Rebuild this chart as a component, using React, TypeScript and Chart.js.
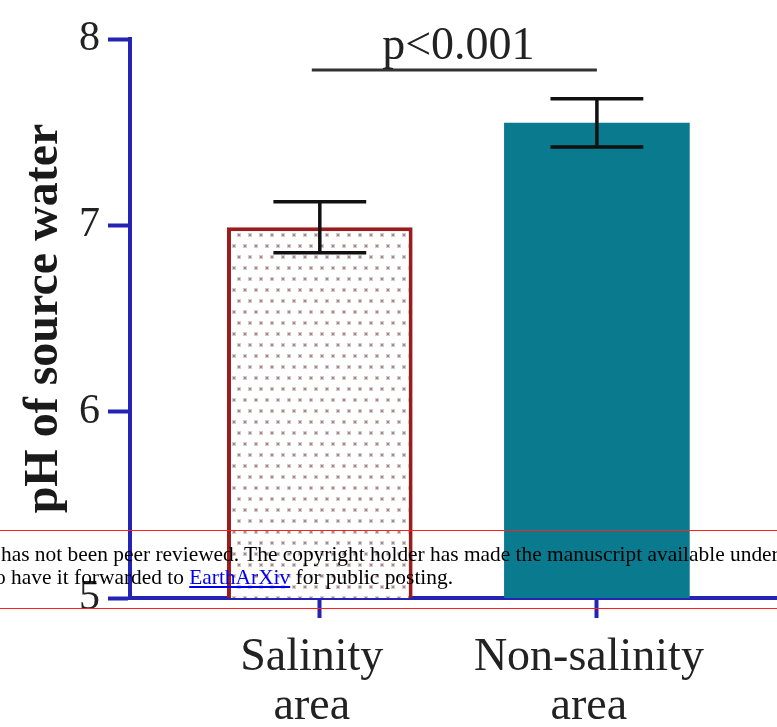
import React, { useEffect, useRef } from "react";
import { Chart, registerables } from "chart.js";

Chart.register(...registerables);

const CATEGORIES = ["Salinity area", "Non-salinity area"];
const X_TICK_LABELS = [["Salinity", "area"], ["Non-salinity", "area"]];
const MEANS = [6.99, 7.55];
const SDS = [0.137, 0.13];
const Y_TICKS = [5, 6, 7, 8];
const P_LABEL = "p<0.001";
const P_LEVEL = 7.834;
const Y_TITLE = "pH of source water";

const BLUE = "#2323b4";
const TEAL = "#0a7a8f";
const DARK_RED = "#9b1c1c";
const SERIF = "'Liberation Serif', 'Times New Roman', serif";

export default function App() {
  const ref = useRef<HTMLCanvasElement | null>(null);

  useEffect(() => {
    const canvas = ref.current;
    if (!canvas) return;

    const pc = document.createElement("canvas");
    pc.width = 11;
    pc.height = 22;
    const pctx = pc.getContext("2d")!;
    pctx.fillStyle = "#ffffff";
    pctx.fillRect(0, 0, 11, 22);
    pctx.fillStyle = "#d6caca";
    pctx.fillRect(1, 2, 4, 4);
    pctx.fillRect(6, 13, 4, 4);
    pctx.fillStyle = "#a38a8a";
    pctx.fillRect(2, 3, 2, 2);
    pctx.fillRect(7, 14, 2, 2);
    const pattern = canvas.getContext("2d")!.createPattern(pc, "repeat");

    const errorBars = {
      id: "errorBars",
      afterDatasetsDraw(chart: any) {
        const { ctx } = chart;
        const y = chart.scales.y;
        const meta = chart.getDatasetMeta(0);
        ctx.save();
        ctx.strokeStyle = "#111";
        ctx.lineWidth = 3.5;
        ctx.lineCap = "butt";
        meta.data.forEach((bar: any, i: number) => {
          const x = bar.x;
          const half = bar.width * 0.25;
          const yt = y.getPixelForValue(MEANS[i] + SDS[i]);
          const yb = y.getPixelForValue(MEANS[i] - SDS[i]);
          ctx.beginPath();
          ctx.moveTo(x, yt);
          ctx.lineTo(x, yb);
          ctx.moveTo(x - half, yt);
          ctx.lineTo(x + half, yt);
          ctx.moveTo(x - half, yb);
          ctx.lineTo(x + half, yb);
          ctx.stroke();
        });
        // significance bracket
        const b0 = meta.data[0];
        const b1 = meta.data[1];
        const ly = y.getPixelForValue(P_LEVEL);
        ctx.strokeStyle = "#333";
        ctx.lineWidth = 3;
        ctx.beginPath();
        ctx.moveTo(b0.x - 8, ly);
        ctx.lineTo(b1.x, ly);
        ctx.stroke();
        ctx.fillStyle = "#222";
        ctx.font = `46px ${SERIF}`;
        ctx.textAlign = "center";
        ctx.textBaseline = "alphabetic";
        ctx.fillText(P_LABEL, (b0.x + b1.x) / 2, ly - 11);
        ctx.restore();
      },
    };

    const chart = new Chart(canvas, {
      type: "bar",
      data: {
        datasets: [
          {
            data: MEANS.map((m, i) => ({ x: i + 1, y: m })),
            backgroundColor: [pattern as any, TEAL],
            borderColor: [DARK_RED, TEAL],
            borderWidth: [4, 0],
            barPercentage: 0.67,
            categoryPercentage: 1,
          },
        ],
      },
      options: {
        responsive: false,
        animation: false,
        layout: { padding: { top: 39, left: 0, right: 0, bottom: 0 } },
        plugins: { legend: { display: false }, tooltip: { enabled: false } },
        scales: {
          x: {
            type: "linear",
            min: 0.315,
            max: 2.65,
            offset: false,
            z: 1,
            afterBuildTicks: (s: any) => {
              s.ticks = CATEGORIES.map((_, i) => ({ value: i + 1 }));
            },
            afterFit: (s: any) => {
              s.height = 129;
            },
            ticks: {
              callback: (_v: any, i: number) => X_TICK_LABELS[i],
              font: { family: SERIF, size: 46, lineHeight: 1.07 },
              color: "#222",
              padding: 15,
              labelOffset: -8,
              maxRotation: 0,
              autoSkip: false,
            },
            grid: {
              offset: false,
              drawOnChartArea: false,
              drawTicks: true,
              tickLength: 20,
              tickColor: BLUE,
              tickWidth: 4,
            },
            border: { color: BLUE, width: 4 },
          },
          y: {
            min: 5,
            max: 8,
            z: 1,
            afterBuildTicks: (s: any) => {
              s.ticks = Y_TICKS.map((v) => ({ value: v }));
            },
            afterFit: (s: any) => {
              s.width = 130;
            },
            ticks: {
              font: { family: SERIF, size: 42 },
              color: "#222",
              padding: 8,
            },
            grid: {
              drawOnChartArea: false,
              drawTicks: true,
              tickLength: 22,
              tickColor: BLUE,
              tickWidth: 4,
            },
            border: { color: BLUE, width: 4 },
            title: {
              display: true,
              text: Y_TITLE,
              font: { family: SERIF, size: 48, weight: "bold" },
              color: "#1a1a1a",
              padding: { top: 16, bottom: 0 },
            },
          },
        },
      },
      plugins: [errorBars],
    } as any);

    return () => chart.destroy();
  }, []);

  const lineStyle: React.CSSProperties = {
    position: "absolute",
    left: 0,
    whiteSpace: "nowrap",
    fontFamily: SERIF,
    fontSize: 21.4,
    color: "#000",
    lineHeight: "23px",
  };

  return (
    <div style={{ position: "absolute", left: 0, top: 0, width: 777, height: 727, overflow: "hidden", background: "#fff" }}>
      <canvas ref={ref} width={777} height={727} style={{ display: "block" }} />
      <div style={{ position: "absolute", left: 0, top: 530, width: 777, height: 1, background: "#ff2020" }} />
      <div style={{ position: "absolute", left: 0, top: 608, width: 777, height: 1, background: "#ff2020" }} />
      <div style={{ ...lineStyle, top: 543, left: 1 }}>
        has not been peer reviewed. The copyright holder has made the manuscript available under
      </div>
      <div style={{ ...lineStyle, top: 566, left: -5 }}>
        o have it forwarded to <a href="#" style={{ color: "#0000ee", textDecoration: "underline" }}>EarthArXiv</a> for public posting.
      </div>
    </div>
  );
}
